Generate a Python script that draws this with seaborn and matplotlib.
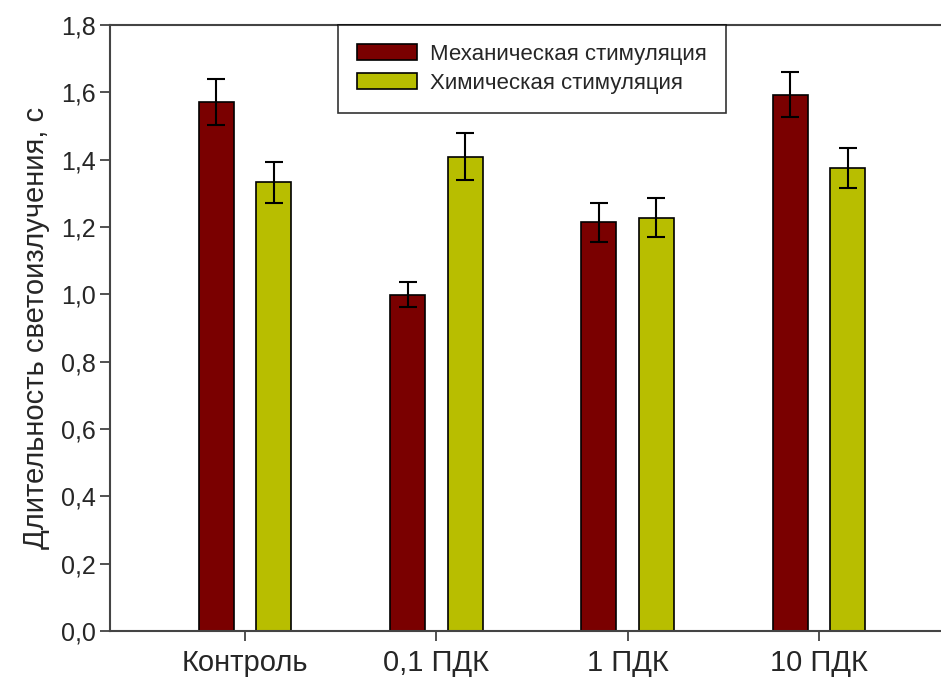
import matplotlib
matplotlib.use("Agg")
import matplotlib.pyplot as plt
from matplotlib.ticker import FuncFormatter, MultipleLocator
import seaborn as sns
import pandas as pd

# Groups and measured durations (s) with standard errors
groups = ["Контроль", "0,1 ПДК", "1 ПДК", "10 ПДК"]
series = ["Механическая стимуляция", "Химическая стимуляция"]
mech_mean = [1.572, 0.999, 1.214, 1.593]
mech_err = [0.069, 0.037, 0.058, 0.067]
chem_mean = [1.333, 1.409, 1.228, 1.376]
chem_err = [0.061, 0.069, 0.059, 0.060]
colors = ["#7a0000", "#b8be00"]

df = pd.DataFrame({
    "group": groups * 2,
    "series": [series[0]] * 4 + [series[1]] * 4,
    "value": mech_mean + chem_mean,
    "err": mech_err + chem_err,
})

sns.set_style("ticks")
plt.rcParams["font.family"] = ["Liberation Sans", "DejaVu Sans"]

fig = plt.figure(figsize=(9.41, 6.77), dpi=100)
ax = fig.add_axes([110 / 941, 46 / 677, 1 - 110 / 941, 606 / 677])

sns.barplot(data=df, x="group", y="value", hue="series", order=groups,
            hue_order=series, palette=colors, width=0.6, gap=0.39,
            errorbar=None, edgecolor="black", linewidth=1.2,
            saturation=1, ax=ax)

# error bars on each bar, in the same order seaborn draws them
for patch, (_, row) in zip(ax.patches, df.iterrows()):
    xc = patch.get_x() + patch.get_width() / 2
    ax.errorbar(xc, row["value"], yerr=row["err"], fmt="none",
                ecolor="black", elinewidth=1.5, capsize=6.5, capthick=1.5,
                zorder=3)

ax.set_xlim(-0.706, 3.638)
ax.set_ylim(0, 1.8)
ax.yaxis.set_major_locator(MultipleLocator(0.2))
ax.yaxis.set_major_formatter(FuncFormatter(lambda v, p: f"{v:.1f}".replace(".", ",")))

ax.set_xlabel("")
ax.set_ylabel("Длительность светоизлучения, с", fontsize=21, labelpad=8)
ax.tick_params(axis="y", labelsize=18, length=7, width=1.2, color="#333333", pad=3)
ax.tick_params(axis="x", labelsize=21, length=7, width=1.2, color="#333333", pad=6)

for side in ["left", "bottom", "top"]:
    ax.spines[side].set_color("#444444")
    ax.spines[side].set_linewidth(1.5)
ax.spines["right"].set_visible(False)

leg = ax.legend(loc="upper left", bbox_to_anchor=((338 - 110) / 831, 1.0),
                fontsize=16, frameon=True, fancybox=False, edgecolor="black",
                handlelength=2.7, handleheight=0.7, borderpad=0.85,
                labelspacing=0.35, handletextpad=0.6, borderaxespad=0)
leg.get_frame().set_linewidth(1.2)
for h in leg.legend_handles:
    h.set_edgecolor("black")

fig.savefig("out.png", dpi=100)
